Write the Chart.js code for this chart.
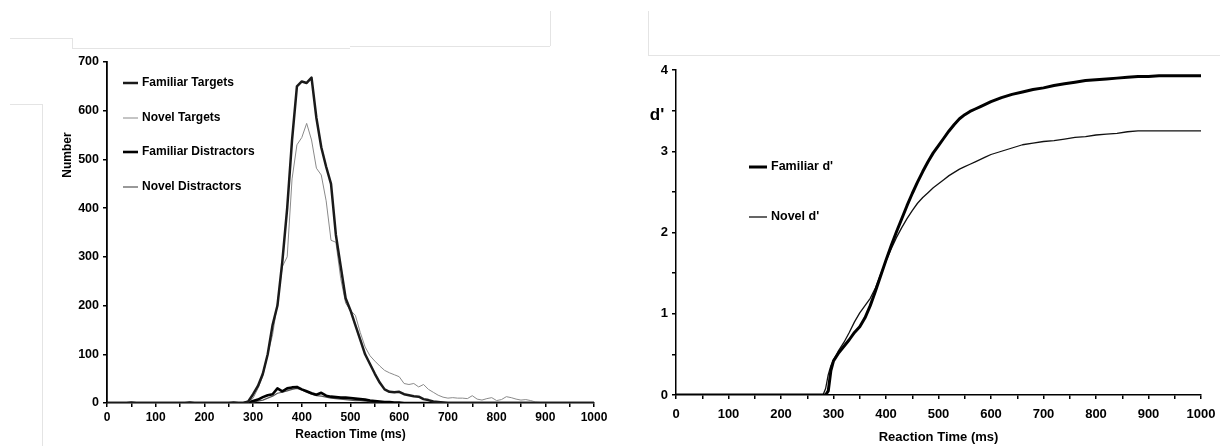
<!DOCTYPE html>
<html>
<head>
<meta charset="utf-8">
<script src="https://cdn.jsdelivr.net/npm/chart.js@4/dist/chart.umd.min.js"></script>
<style>
  html, body { margin: 0; padding: 0; background: #fff; }
  #wrap { position: relative; width: 1220px; height: 446px; overflow: hidden; }
  canvas { position: absolute; top: 0; }
  .rule { position: absolute; background: #e4e4e4; }
</style>
</head>
<body>
<div id="wrap">
  <!-- thin frame rules around the two panels -->
  <div class="rule" style="left:10px;top:38px;width:62px;height:1px"></div>
  <div class="rule" style="left:72px;top:38px;width:1px;height:10px"></div>
  <div class="rule" style="left:72px;top:48px;width:278px;height:1px"></div>
  <div class="rule" style="left:350px;top:46px;width:200px;height:1px"></div>
  <div class="rule" style="left:550px;top:11px;width:1px;height:35px"></div>
  <div class="rule" style="left:10px;top:104px;width:32px;height:1px"></div>
  <div class="rule" style="left:42px;top:104px;width:1px;height:342px"></div>
  <div class="rule" style="left:648px;top:11px;width:1px;height:44px"></div>
  <div class="rule" style="left:648px;top:55px;width:572px;height:1px"></div>
  <canvas id="counts" width="610" height="446" style="left:0"></canvas>
  <canvas id="dprime" width="610" height="446" style="left:610px"></canvas>
</div>
<script>
// Reaction-time bins (ms) for the response-count histogram
const rtBins = [
  0, 10, 20, 30, 40, 50, 60, 70, 80, 90,
  100, 110, 120, 130, 140, 150, 160, 170, 180, 190,
  200, 210, 220, 230, 240, 250, 260, 270, 280, 290,
  300, 310, 320, 330, 340, 350, 360, 370, 380, 390,
  400, 410, 420, 430, 440, 450, 460, 470, 480, 490,
  500, 510, 520, 530, 540, 550, 560, 570, 580, 590,
  600, 610, 620, 630, 640, 650, 660, 670, 680, 690,
  700, 710, 720, 730, 740, 750, 760, 770, 780, 790,
  800, 810, 820, 830, 840, 850, 860, 870, 880, 890,
  900, 910, 920, 930, 940, 950, 960, 970, 980, 990,
  1000
];

// Number of responses per bin
const familiarTargets = [
  0, 0, 0, 0, 0, 1, 0, 0, 0, 0,
  0, 0, 0, 0, 0, 0, 0, 1, 0, 0,
  0, 0, 0, 0, 0, 0, 1, 0, 0, 3,
  18, 35, 60, 100, 160, 200, 290, 400, 540, 650,
  660, 657, 668, 585, 525, 485, 450, 345, 280, 215,
  190, 160, 130, 100, 80, 60, 42, 28, 23, 22,
  23, 18, 16, 14, 13, 8, 6, 3, 2, 1,
  0, 0, 0, 0, 0, 0, 0, 0, 0, 0,
  0, 0, 0, 0, 0, 0, 0, 0, 0, 0,
  0, 0, 0, 0, 0, 0, 0, 0, 0, 0,
  0
];
const novelTargets = [
  0, 0, 0, 0, 0, 0, 0, 0, 0, 0,
  0, 0, 0, 0, 0, 0, 0, 2, 0, 0,
  0, 0, 0, 0, 0, 1, 0, 0, 0, 2,
  10, 30, 55, 100, 140, 205, 280, 300, 460, 530,
  545, 574, 540, 482, 468, 415, 334, 330, 255, 205,
  190, 180, 145, 115, 97, 86, 76, 67, 62, 58,
  54, 40, 38, 40, 33, 38, 28, 22, 16, 12,
  10, 11, 10, 10, 9, 15, 8, 6, 9, 11,
  5, 7, 13, 11, 8, 6, 7, 5, 2, 1,
  0, 0, 0, 0, 0, 0, 0, 0, 0, 0,
  0
];
const familiarDistractors = [
  0, 0, 0, 0, 0, 0, 0, 0, 0, 0,
  0, 0, 0, 0, 0, 0, 0, 0, 0, 0,
  0, 0, 0, 0, 0, 0, 0, 0, 0, 1,
  4, 7, 12, 16, 18, 30, 24, 30, 32, 33,
  28, 24, 20, 17, 21, 15, 13, 12, 11, 11,
  10, 9, 8, 7, 5, 4, 3, 2, 2, 1,
  1, 0, 0, 0, 0, 0, 0, 0, 0, 0,
  0, 0, 0, 0, 0, 0, 0, 0, 0, 0,
  0, 0, 0, 0, 0, 0, 0, 0, 0, 0,
  0, 0, 0, 0, 0, 0, 0, 0, 0, 0,
  0
];
const novelDistractors = [
  0, 0, 0, 0, 0, 0, 0, 0, 0, 0,
  0, 0, 0, 0, 0, 0, 0, 0, 0, 0,
  0, 0, 0, 0, 0, 0, 0, 0, 0, 0,
  2, 4, 6, 10, 14, 20, 22, 25, 28, 30,
  27, 22, 18, 15, 14, 12, 10, 9, 8, 7,
  6, 5, 5, 4, 3, 3, 2, 2, 1, 1,
  1, 0, 0, 0, 0, 0, 0, 0, 0, 0,
  0, 0, 0, 0, 0, 0, 0, 0, 0, 0,
  0, 0, 0, 0, 0, 0, 0, 0, 0, 0,
  0, 0, 0, 0, 0, 0, 0, 0, 0, 0,
  0
];

// Cumulative sensitivity (d') against reaction time
const dPrimeRt = [
  0, 280, 285, 290, 295, 300, 310, 320, 330, 340,
  350, 360, 370, 380, 390, 400, 410, 420, 430, 440,
  450, 460, 470, 480, 490, 500, 510, 520, 530, 540,
  550, 560, 570, 580, 590, 600, 620, 640, 660, 680,
  700, 720, 740, 760, 780, 800, 820, 840, 860, 880,
  900, 920, 940, 960, 980, 1000
];
const familiarDPrime = [
  0, 0, 0, 0.05, 0.30, 0.42, 0.52, 0.60, 0.68, 0.77,
  0.84, 0.95, 1.10, 1.28, 1.47, 1.66, 1.84, 2.01, 2.17, 2.33,
  2.48, 2.62, 2.75, 2.87, 2.98, 3.07, 3.16, 3.25, 3.33, 3.40,
  3.45, 3.49, 3.52, 3.55, 3.58, 3.61, 3.66, 3.70, 3.73, 3.76,
  3.78, 3.81, 3.83, 3.85, 3.87, 3.88, 3.89, 3.90, 3.91, 3.92,
  3.92, 3.93, 3.93, 3.93, 3.93, 3.93
];
const novelDPrime = [
  0, 0, 0.08, 0.25, 0.36, 0.43, 0.55, 0.65, 0.77, 0.90,
  1.01, 1.10, 1.19, 1.32, 1.49, 1.65, 1.80, 1.94, 2.06, 2.17,
  2.27, 2.36, 2.43, 2.49, 2.55, 2.60, 2.65, 2.70, 2.74, 2.78,
  2.81, 2.84, 2.87, 2.90, 2.93, 2.96, 3.00, 3.04, 3.08, 3.10,
  3.12, 3.13, 3.15, 3.17, 3.18, 3.20, 3.21, 3.22, 3.24, 3.25,
  3.25, 3.25, 3.25, 3.25, 3.25, 3.25
];

const FAMILY = '"Liberation Sans", Arial, Helvetica, sans-serif';
const font = (size) => ({ family: FAMILY, size: size, weight: 'bold' });
const pts = (xs, ys) => xs.map((x, i) => ({ x: x, y: ys[i] }));

// Legend drawn inside the plot, plus free-standing axis captions
const insetLegend = {
  id: 'insetLegend',
  afterDraw(chart, args, opts) {
    const ctx = chart.ctx;
    ctx.save();
    ctx.textBaseline = 'middle';
    ctx.textAlign = 'left';
    ctx.fillStyle = '#000';
    ctx.font = 'bold ' + opts.size + 'px ' + FAMILY;
    chart.data.datasets.forEach((ds, i) => {
      const y = opts.rows[i];
      ctx.strokeStyle = ds.borderColor;
      ctx.lineWidth = ds.borderWidth;
      ctx.beginPath();
      ctx.moveTo(opts.x0, y);
      ctx.lineTo(opts.x1, y);
      ctx.stroke();
      ctx.fillText(ds.label, opts.textX, y);
    });
    (opts.captions || []).forEach(c => {
      ctx.save();
      ctx.font = 'bold ' + c.size + 'px ' + FAMILY;
      ctx.textAlign = 'center';
      ctx.translate(c.x, c.y);
      ctx.rotate(c.rotate || 0);
      ctx.fillText(c.text, 0, 0);
      ctx.restore();
    });
    ctx.restore();
  }
};

function axisX(title, size, height, padBottom, tickPad) {
  return {
    type: 'linear', min: 0, max: 1000,
    ticks: {
      stepSize: 50, autoSkip: false, maxRotation: 0, padding: tickPad,
      color: '#000', font: font(size),
      callback: v => (v % 100 === 0 ? String(v) : '')
    },
    grid: { drawOnChartArea: false, drawTicks: true, tickLength: 4, color: '#000', lineWidth: 1.5 },
    border: { display: true, color: '#000', width: 1.5 },
    title: { display: true, text: title, color: '#000', font: font(size), padding: { top: 2, bottom: padBottom } },
    // fixed axis band; the outer layout padding alone sets the plot's right edge
    afterFit: s => { s.height = height; s.paddingRight = 0; s.paddingLeft = 0; }
  };
}

new Chart(document.getElementById('counts'), {
  type: 'line',
  data: {
    datasets: [
      { label: 'Familiar Targets', data: pts(rtBins, familiarTargets), borderColor: '#1a1a1a', borderWidth: 2.5 },
      { label: 'Novel Targets', data: pts(rtBins, novelTargets), borderColor: '#8a8a8a', borderWidth: 1 },
      { label: 'Familiar Distractors', data: pts(rtBins, familiarDistractors), borderColor: '#000', borderWidth: 2.6 },
      { label: 'Novel Distractors', data: pts(rtBins, novelDistractors), borderColor: '#555', borderWidth: 1.2 }
    ]
  },
  options: {
    responsive: false, animation: false,
    layout: { padding: { left: 0, top: 62, right: 16, bottom: 0 } },
    elements: { point: { radius: 0 }, line: { tension: 0, borderJoinStyle: 'round' } },
    plugins: {
      legend: { display: false }, tooltip: { enabled: false },
      insetLegend: {
        size: 12, x0: 123, x1: 138, textX: 142, rows: [83, 118, 152, 187],
        captions: [{ text: 'Number', size: 12, x: 68, y: 155, rotate: -Math.PI / 2 }]
      }
    },
    scales: {
      x: axisX('Reaction Time (ms)', 12, 43, 4, 3),
      y: {
        min: 0, max: 700,
        ticks: { stepSize: 100, padding: 4, color: '#000', font: font(12.5) },
        grid: { drawOnChartArea: false, tickLength: 4, color: '#000', lineWidth: 1.5 },
        border: { display: true, color: '#000', width: 1.8 },
        afterFit: s => { s.width = 107; }
      }
    }
  },
  plugins: [insetLegend]
});

new Chart(document.getElementById('dprime'), {
  type: 'line',
  data: {
    datasets: [
      { label: "Familiar d'", data: pts(dPrimeRt, familiarDPrime), borderColor: '#000', borderWidth: 3 },
      { label: "Novel d'", data: pts(dPrimeRt, novelDPrime), borderColor: '#111', borderWidth: 1.3 }
    ]
  },
  options: {
    responsive: false, animation: false,
    layout: { padding: { left: 0, top: 70, right: 19, bottom: 0 } },
    elements: { point: { radius: 0 }, line: { tension: 0, borderJoinStyle: 'round' } },
    plugins: {
      legend: { display: false }, tooltip: { enabled: false },
      insetLegend: {
        size: 12.5, x0: 139, x1: 157, textX: 161, rows: [167, 217],
        captions: [{ text: "d'", size: 17, x: 47, y: 115 }]
      }
    },
    scales: {
      x: axisX('Reaction Time (ms)', 13, 51, 1, 8),
      y: {
        min: 0, max: 4,
        ticks: {
          stepSize: 0.5, padding: 4, color: '#000', font: font(13),
          callback: v => (Number.isInteger(v) ? String(v) : '')
        },
        grid: { drawOnChartArea: false, tickLength: 4, color: '#000', lineWidth: 1.5 },
        border: { display: true, color: '#000', width: 1.5 },
        afterFit: s => { s.width = 66; }
      }
    }
  },
  plugins: [insetLegend]
});
</script>
</body>
</html>
